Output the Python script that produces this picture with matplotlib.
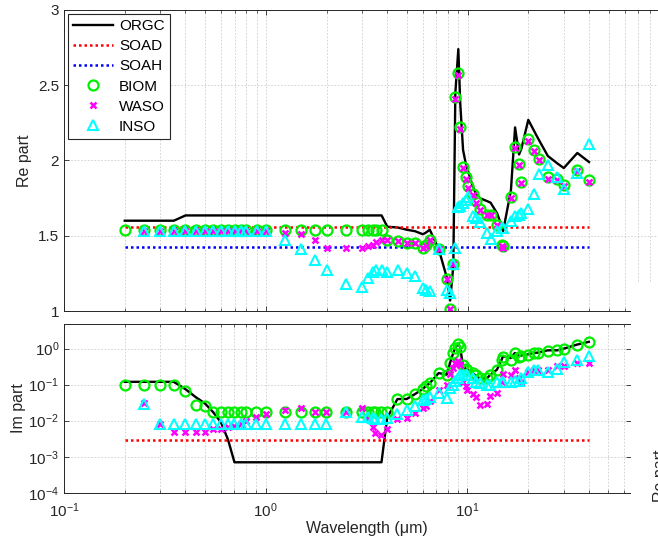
import numpy as np
import matplotlib
matplotlib.use("Agg")
import matplotlib.pyplot as plt
from matplotlib.patches import Rectangle
from matplotlib.ticker import FixedLocator, LogLocator, NullLocator, NullFormatter

plt.rcParams['font.family'] = ['Liberation Sans', 'DejaVu Sans']
plt.rcParams['mathtext.fontset'] = 'custom'
plt.rcParams['mathtext.rm'] = 'Liberation Sans'
plt.rcParams['mathtext.it'] = 'Liberation Sans:italic'

nan = np.nan

# wavelength grid (um)
wl = [0.2, 0.25, 0.3, 0.35, 0.4, 0.45, 0.5, 0.55, 0.6, 0.65,
      0.7, 0.75, 0.8, 0.9, 1.0, 1.25, 1.5, 1.75, 2.0, 2.5,
      3.0, 3.2, 3.39, 3.5, 3.75, 4.0, 4.5, 5.0, 5.5, 6.0,
      6.2, 6.5, 7.2, 7.9, 8.2, 8.5, 8.7, 9.0, 9.2, 9.5,
      9.8, 10.0, 10.6, 11.0, 11.5, 12.5, 13.0, 14.0, 14.8, 15.0,
      16.4, 17.2, 18.0, 18.5, 20.0, 21.3, 22.5, 25.0, 27.9, 30.0,
      35.0, 40.0]

# real part of refractive index
orgc_re = [1.60, 1.60, 1.60, 1.60, 1.635, 1.635, 1.635, 1.635, 1.635, 1.635,
           1.635, 1.635, 1.635, 1.635, 1.635, 1.635, 1.635, 1.635, 1.635, 1.635,
           1.635, 1.635, 1.635, 1.635, 1.635, 1.56, 1.555, 1.54, 1.53, 1.51,
           1.52, 1.54, 1.41, 1.22, 1.07, 1.30, 2.45, 2.74, 2.38, 2.07,
           1.98, 1.94, 1.83, 1.78, 1.75, 1.73, 1.72, 1.65, 1.56, 1.53,
           1.80, 2.22, 2.04, 2.08, 2.27, 2.20, 2.14, 2.03, 1.98, 1.95,
           2.05, 1.99]
biom_re = [1.535, 1.535, 1.535, 1.535, 1.535, 1.535, 1.535, 1.535, 1.535, 1.535,
           1.535, 1.535, 1.535, 1.535, 1.535, 1.535, 1.535, 1.535, 1.535, 1.535,
           1.535, 1.535, 1.535, 1.535, 1.535, 1.47, 1.465, 1.455, 1.45, 1.42,
           1.44, 1.47, 1.41, 1.21, 1.01, 1.31, 2.42, 2.58, 2.22, 1.96,
           1.89, 1.83, 1.78, 1.73, 1.68, 1.64, 1.64, 1.57, 1.44, 1.43,
           1.76, 2.09, 1.98, 1.86, 2.14, 2.07, 2.01, 1.89, 1.88, 1.84,
           1.94, 1.87]
waso_re = [nan, 1.53, 1.53, 1.53, 1.53, 1.53, 1.53, 1.53, 1.53, 1.53,
           1.53, 1.53, 1.53, 1.53, 1.53, 1.515, 1.51, 1.47, 1.42, 1.42,
           1.42, 1.43, 1.44, 1.46, 1.47, 1.47, 1.465, 1.45, 1.45, 1.42,
           1.43, 1.47, 1.41, 1.21, 1.01, 1.31, 2.41, 2.57, 2.21, 1.95,
           1.88, 1.82, 1.77, 1.72, 1.67, 1.64, 1.64, 1.57, 1.43, 1.42,
           1.75, 2.08, 1.97, 1.85, 2.13, 2.06, 2.00, 1.88, 1.87, 1.83,
           1.93, 1.86]
inso_re = [nan, 1.53, 1.53, 1.53, 1.53, 1.53, 1.53, 1.53, 1.53, 1.53,
           1.53, 1.53, 1.53, 1.53, 1.53, 1.47, 1.41, 1.34, 1.27, 1.18,
           1.16, 1.22, 1.26, 1.27, 1.27, 1.26, 1.27, 1.25, 1.23, 1.15,
           1.14, 1.13, 1.41, 1.14, 1.12, 1.31, 1.42, 1.69, 1.70, 1.72,
           1.74, 1.76, 1.63, 1.62, 1.59, 1.52, 1.48, 1.53, 1.55, 1.55,
           1.60, 1.63, 1.64, 1.65, 1.68, 1.78, 1.91, 1.97, 1.89, 1.81,
           1.92, 2.11]
soad_re = 1.56
soah_re = 1.427

# imaginary part of refractive index
orgc_im = [0.12, 0.12, 0.12, 0.12, 0.075, 0.045, 0.03, 0.017, 0.009, 0.003,
           0.0007, 0.0007, 0.0007, 0.0007, 0.0007, 0.0007, 0.0007, 0.0007, 0.0007, 0.0007,
           0.0007, 0.0007, 0.0007, 0.0007, 0.0007, 0.012, 0.04, 0.04, 0.055, 0.075,
           0.09, 0.11, 0.21, 0.19, 0.4, 0.75, 1.05, 1.4, 1.1, 0.35,
           0.28, 0.26, 0.21, 0.18, 0.15, 0.15, 0.19, 0.26, 0.5, 0.62,
           0.55, 0.76, 0.62, 0.65, 0.7, 0.76, 0.78, 0.9, 0.9, 1.0,
           1.3, 1.55]
biom_im = [0.10, 0.10, 0.10, 0.10, 0.065, 0.028, 0.026, 0.017, 0.018, 0.018,
           0.018, 0.018, 0.018, 0.018, 0.018, 0.018, 0.018, 0.018, 0.018, 0.018,
           0.018, 0.018, 0.018, 0.018, 0.018, 0.018, 0.040, 0.040, 0.055, 0.075,
           0.09, 0.11, 0.21, 0.19, 0.40, 0.75, 1.05, 1.35, 1.1, 0.35,
           0.28, 0.26, 0.21, 0.18, 0.15, 0.15, 0.19, 0.26, 0.5, 0.6,
           0.5, 0.75, 0.6, 0.62, 0.68, 0.74, 0.77, 0.88, 0.9, 1.0,
           1.28, 1.52]
waso_im = [nan, 0.032, 0.008, 0.005, 0.005, 0.005, 0.005, 0.006, 0.006, 0.0066,
           0.0072, 0.008, 0.0095, 0.013, 0.0155, 0.02, 0.023, 0.018, 0.017, 0.018,
           0.022, 0.011, 0.0068, 0.0045, 0.004, 0.006, 0.011, 0.012, 0.016, 0.022,
           0.025, 0.035, 0.07, 0.10, 0.2, 0.3, 0.4, 0.45, 0.35, 0.12,
           0.09, 0.07, 0.055, 0.045, 0.028, 0.03, 0.05, 0.06, 0.12, 0.2,
           0.19, 0.26, 0.15, 0.12, 0.23, 0.25, 0.25, 0.25, 0.32, 0.32,
           0.40, 0.40]
inso_im = [nan, 0.03, 0.008, 0.008, 0.008, 0.008, 0.008, 0.008, 0.008, 0.008,
           0.008, 0.008, 0.008, 0.008, 0.008, 0.008, 0.008, 0.008, 0.008, 0.017,
           0.013, 0.013, 0.012, 0.011, 0.011, 0.012, 0.015, 0.02, 0.025, 0.038,
           0.04, 0.045, 0.058, 0.042, 0.08, 0.1, 0.13, 0.15, 0.18, 0.18,
           0.18, 0.18, 0.15, 0.12, 0.11, 0.1, 0.1, 0.12, 0.12, 0.12,
           0.12, 0.13, 0.13, 0.15, 0.23, 0.26, 0.26, 0.23, 0.28, 0.44,
           0.48, 0.61]
soad_im = 0.003

wl_ends = [wl[0], wl[-1]]
axis_color = '#262626'
grid_kw = dict(color='#cccccc', linestyle=(0, (2, 2)), linewidth=0.6)


def draw_series(ax, orgc, biom, waso, inso, soad, soah=None):
    ax.plot(wl, orgc, '-', color='k', lw=1.7, label='ORGC')
    ax.plot(wl_ends, [soad, soad], color='#ff0000', lw=1.8,
            linestyle=(0, (1, 1.2)), label='SOAD')
    if soah is not None:
        ax.plot(wl_ends, [soah, soah], color='#0000ff', lw=1.8,
                linestyle=(0, (1, 1.2)), label='SOAH')
    ax.plot(wl, biom, 'o', mfc='none', mec='#00ee00', ms=7.2, mew=1.6,
            label='BIOM')
    ax.plot(wl, waso, 'x', color='#ff00ff', ms=4.5, mew=1.8, label='WASO')
    ax.plot(wl, inso, '^', mfc='none', mec='#00ffff', ms=7, mew=1.5,
            label='INSO')


def style_axes(ax):
    ax.set_xscale('log')
    ax.xaxis.set_minor_locator(LogLocator(base=10, subs=np.arange(2, 10)))
    ax.grid(True, which='both', axis='x', **grid_kw)
    ax.grid(True, which='major', axis='y', **grid_kw)
    ax.set_axisbelow(True)
    ax.tick_params(which='both', direction='in', top=True, right=True,
                   color=axis_color, labelcolor=axis_color, labelsize=11)
    ax.tick_params(axis='x', which='both', pad=6)
    ax.tick_params(which='major', length=3.5, width=0.6)
    ax.tick_params(which='minor', length=2.5, width=0.5)
    for s in ax.spines.values():
        s.set_color(axis_color)
        s.set_linewidth(0.7)


fig = plt.figure(figsize=(6.58, 5.46), dpi=100)

# upper panel: real part (wider than the figure, right side hidden)
ax1 = fig.add_axes([0.0973, 0.4304, 0.9666, 0.5513])
draw_series(ax1, orgc_re, biom_re, waso_re, inso_re, soad_re, soah_re)
style_axes(ax1)
ax1.set_xlim(0.1, 142)
ax1.set_ylim(1, 3)
ax1.yaxis.set_major_locator(FixedLocator([1, 1.5, 2, 2.5, 3]))
ax1.set_yticklabels(['1', '1.5', '2', '2.5', '3'])
ax1.xaxis.set_major_formatter(NullFormatter())
ax1.xaxis.set_minor_formatter(NullFormatter())
ax1.set_ylabel('Re part', fontsize=11.5, color=axis_color)
ax1.yaxis.set_label_coords(-0.05, 0.5)
leg = ax1.legend(loc='upper left', bbox_to_anchor=(0.006, 0.987),
                 borderaxespad=0, fontsize=11, handlelength=2.6,
                 handletextpad=0.4, labelspacing=0.4, borderpad=0.35,
                 fancybox=False, framealpha=1, edgecolor=axis_color)
leg.get_frame().set_linewidth(0.8)

# lower panel: imaginary part
ax2 = fig.add_axes([0.0973, 0.0976, 0.8612, 0.3099])
draw_series(ax2, orgc_im, biom_im, waso_im, inso_im, soad_im)
style_axes(ax2)
ax2.set_yscale('log')
ax2.set_xlim(0.1, 64.5)
ax2.set_ylim(1e-4, 5)
ax2.yaxis.set_major_locator(FixedLocator([1e-4, 1e-3, 1e-2, 1e-1, 1e0]))
ax2.yaxis.set_minor_locator(NullLocator())
ax2.set_ylabel('Im part', fontsize=11.5, color=axis_color)
ax2.yaxis.set_label_coords(-0.067, 0.5)
ax2.set_xlabel('Wavelength (μm)', fontsize=11.5, color=axis_color)
ax2.xaxis.set_label_coords(0.535, -0.17)

# neighbouring panel overlapping the right edge
fig.add_artist(Rectangle((0.959, 0.0), 0.1, 0.4817, transform=fig.transFigure,
                         facecolor='white', edgecolor='none', zorder=5))
fig.text(0.9925, 0.128, 'Re part', rotation=90, ha='left', va='center',
         fontsize=11.5, color=axis_color, zorder=6)

fig.savefig('out.png', dpi=100)
